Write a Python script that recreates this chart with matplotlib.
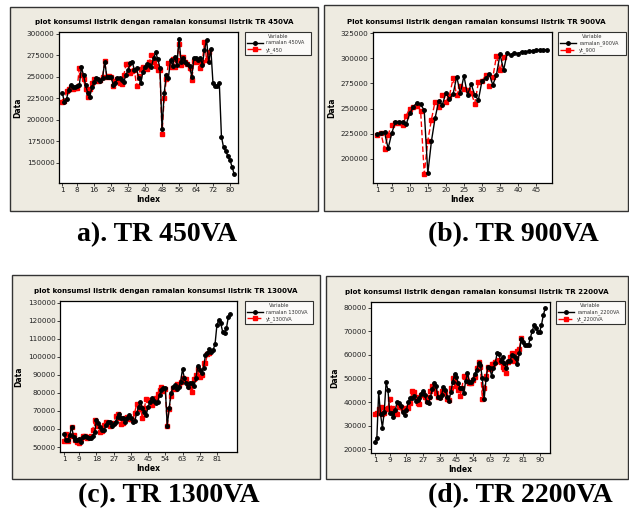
import matplotlib
matplotlib.use("Agg")
import matplotlib.pyplot as plt
from matplotlib.patches import Rectangle

# data
ramalan_450 = [231000, 221000, 224000, 235000, 241000, 238600, 238000, 239000, 240000, 261000,
               252000, 240500, 231000, 227000, 238600, 243600, 249000, 247500, 245000, 249000,
               267700, 250000, 250000, 250000, 240500, 242500, 248300, 248300, 246300, 244400,
               252200, 258000, 265800, 267000, 258000, 260000, 248300, 242500, 256000, 262000,
               264600, 263800, 262000, 271600, 278600, 270800, 260700, 188800, 230800, 252200,
               249000, 269700, 263000, 273500, 263800, 294000, 267700, 272400, 267700, 264600,
               263000, 250000, 271600, 271600, 269700, 272400, 263800, 281300, 293000, 267000,
               282500, 243200, 239700, 239700, 242500, 180200, 167800, 163500, 157700, 153000,
               145200, 136700]
yt_450 = [220500, 221500, 233000, 236000, 238000, 236000, 237000, 236500, 260000, 252000,
          247000, 236000, 226000, 236000, 243000, 248000, 246000, 245000, 246000, 250000,
          268000, 250000, 250500, 250000, 239000, 245000, 247000, 243000, 242000, 252000,
          264500, 264500, 255000, 257000, 258000, 239000, 251000, 259000, 262000, 260000,
          259000, 267000, 276000, 267000, 263000, 258000, 258000, 183000, 225000, 247000,
          266000, 261000, 271000, 262000, 270000, 288000, 264000, 273000, 267000, 265000,
          260000, 246000, 268000, 267000, 269000, 260000, 267000, 291000, 270000, 279000]

ramalan_900 = [224600, 226000, 226300, 210300, 225300, 236900, 236900, 236900, 234300, 245200,
               251900, 255900, 254200, 248200, 185400, 217600, 240200, 257500, 253500, 265500,
               259500, 264500, 281800, 265200, 282500, 263500, 274500, 263500, 258500, 277500,
               280100, 284400, 273500, 283500, 304000, 288400, 305700, 303400, 305700, 304700,
               306700, 306400, 307400, 307700, 308000, 308400, 308700, 308700]
yt_900 = [224000, 225500, 210000, 224000, 234000, 236000, 235500, 233500, 243000, 250000,
          252000, 253000, 248000, 185000, 218000, 239000, 257000, 252000, 263500, 257000,
          263000, 280000, 263500, 272000, 269000, 268000, 266000, 255000, 276000, 277500,
          283000, 272000, 281000, 302000, 288000, 301000]

ramalan_1300 = [57200, 53900, 53700, 56600, 61300, 55700, 53900, 53900, 54200, 53000,
                55700, 56300, 55700, 55200, 54800, 56100, 58100, 65000, 63100, 61300,
                59400, 59400, 62200, 63700, 63700, 61600, 62500, 64000, 66800, 68100,
                65900, 66200, 64000, 65900, 67700, 65900, 64000, 64400, 68600, 72300,
                75100, 71800, 69600, 67700, 72300, 75100, 77300, 75500, 74200, 75100,
                78800, 81600, 82500, 82500, 61800, 71400, 79700, 83400, 84400, 82100,
                83400, 86200, 93200, 88000, 85300, 83400, 85300, 85300, 83800, 88000,
                95100, 92700, 90800, 93600, 101000, 101900, 104100, 102800, 103800, 106900,
                117600, 120400, 118500, 113900, 113400, 116100, 122200, 123700]
yt_1300 = [53500, 57000, 53500, 56000, 61000, 56500, 54000, 53000, 52200, 54500,
           56300, 56000, 55000, 55800, 56300, 59500, 64800, 63500, 61500, 58500,
           59000, 62000, 63600, 63500, 61800, 62500, 63500, 67000, 68200, 66000,
           63000, 63500, 66000, 66800, 65500, 65500, 65000, 69000, 74000, 72500,
           71000, 66000, 71500, 76500, 75800, 76000, 73500, 76500, 77000, 79500,
           81500, 83000, 81000, 82000, 61500, 71000, 78500, 82500, 82000, 85000,
           84500, 86000, 88500, 87000, 87500, 85000, 83500, 80500, 87500, 90000,
           93000, 89000, 90000, 96500, 96500, 101500, 102000]

ramalan_2200 = [23000, 24700, 44400, 34800, 29200, 35900, 48400, 45100, 35200, 35200,
                33500, 36700, 40200, 39500, 38500, 35700, 34500, 36700, 40200, 41600,
                41900, 42700, 40500, 40900, 41600, 43300, 44700, 43000, 39900, 39500,
                42300, 45500, 47900, 47000, 42300, 41600, 43000, 46500, 45100, 42300,
                40600, 44400, 48400, 51800, 50800, 47900, 46100, 45800, 43700, 48900,
                52200, 48700, 48700, 49800, 51900, 53600, 56400, 55700, 50100, 41200,
                49600, 55000, 54600, 51200, 54300, 56400, 60700, 60200, 57400, 59200,
                56400, 54300, 57400, 57400, 59900, 59500, 58500, 56000, 60700, 66700,
                65600, 64200, 64200, 64200, 67300, 70100, 72700, 71500, 69800, 69600,
                72700, 76900, 79700]
yt_2200 = [35000, 35500, 37000, 38000, 35000, 35500, 37000, 37500, 41500, 37500,
           36500, 35500, 34800, 38000, 38000, 37000, 36500, 37500, 37500, 39800,
           44800, 44300, 42000, 39500, 39000, 43000, 43500, 42000, 40500, 42000,
           44500, 47000, 46000, 44000, 42000, 42000, 44500, 44500, 44000, 41500,
           41000, 46000, 50000, 49000, 47000, 45000, 42500, 46000, 51000, 50500,
           49000, 48000, 48000, 49500, 50500, 54500, 57000, 55000, 41500, 46000,
           51000, 55000, 54000, 56000, 56000, 57000, 57500, 58000, 57000, 55000,
           54000, 52500, 57000, 59000, 61000, 57500, 58500, 61500, 62500, 67000]

W, H = 629, 511
BEIGE = "#EEEBE1"

fig = plt.figure(figsize=(W / 100, H / 100), dpi=100)


def fx(x):
    return x / W


def fy(y):
    return 1 - y / H


def panel(box, area, legend_box, title, lab_fc, lab_yt, fc, yt, yticks, ylim, xticks, xlim, caption, cap_xy):
    # grey Minitab frame, kept behind the axes
    bx0, by0, bx1, by1 = box
    fig.patches.append(Rectangle((fx(bx0), fy(by1)), fx(bx1 - bx0), (by1 - by0) / H,
                                 transform=fig.transFigure, facecolor=BEIGE,
                                 edgecolor="#333333", lw=1.0, zorder=-5))
    x0, y0, x1, y1 = area
    ax = fig.add_axes([fx(x0), fy(y1), fx(x1 - x0), (y1 - y0) / H])
    ax.set_facecolor("white")
    ax.plot(range(1, len(fc) + 1), fc, color="black", lw=1.0, marker="o", ms=2.5,
            label=lab_fc, zorder=3)
    ax.plot(range(1, len(yt) + 1), yt, color="red", lw=1.0, ls=(0, (4, 2)), marker="s",
            ms=2.8, label=lab_yt, zorder=2)
    ax.set_xlim(*xlim)
    ax.set_ylim(*ylim)
    ax.set_xticks(xticks)
    ax.set_yticks(yticks)
    ax.tick_params(labelsize=5.2, length=2, width=0.6, pad=1.2, colors="#222222")
    for s in ax.spines.values():
        s.set_linewidth(0.9)
    ax.set_xlabel("Index", fontsize=5.5, fontweight="bold", labelpad=1)
    ax.set_ylabel("Data", fontsize=5.5, fontweight="bold", labelpad=3)
    fig.text(fx((bx0 + bx1) / 2), fy(area[1] - 10), title, ha="center", va="center",
             fontsize=5.1, fontweight="bold")
    lx0, ly0, lx1, ly1 = legend_box
    leg = ax.legend(loc="upper left",
                    bbox_to_anchor=(fx(lx0), fy(ly1), fx(lx1 - lx0), (ly1 - ly0) / H),
                    bbox_transform=fig.transFigure, mode="expand", title="Variable",
                    fontsize=3.6, title_fontsize=3.6, frameon=True, fancybox=False,
                    borderpad=0.4, handlelength=3.2, handletextpad=0.6, labelspacing=0.3,
                    borderaxespad=0)
    leg.get_frame().set_edgecolor("black")
    leg.get_frame().set_linewidth(0.8)
    for t in leg.get_texts():
        t.set_color("#333333")
    leg.get_title().set_color("#333333")
    fig.text(fx(cap_xy[0]), fy(cap_xy[1]), caption, ha="center", va="center",
             fontsize=20, fontweight="bold", family="Liberation Serif")


panel((10, 7, 318, 211), (59, 32, 238, 183), (245, 32, 311, 59),
      "plot konsumsi listrik dengan ramalan konsumsi listrik TR 450VA",
      "ramalan 450VA", "yt_450", ramalan_450, yt_450,
      range(150000, 300001, 25000), (126300, 302300),
      [1, 8, 16, 24, 32, 40, 48, 56, 64, 72, 80], (-0.55, 83.8),
      "a). TR 450VA", (157, 235))

panel((324, 5, 628, 211), (373, 32, 552, 183), (558, 32, 626, 59),
      "Plot konsumsi listrik dengan ramalan konsumsi listrik TR 900VA",
      "ramalan_900VA", "yt_900", ramalan_900, yt_900,
      range(200000, 325001, 25000), (175800, 326300),
      [1, 5, 10, 15, 20, 25, 30, 35, 40, 45], (-0.19, 49.4),
      "(b). TR 900VA", (513, 235))

panel((12, 275, 320, 479), (60, 301, 237, 452), (245, 301, 313, 330),
      "plot konsumsi listrik dengan ramalan konsumsi listrik TR 1300VA",
      "ramalan 1300VA", "yt_1300VA", ramalan_1300, yt_1300,
      range(50000, 130001, 10000), (47230, 130940),
      [1, 9, 18, 27, 36, 45, 54, 63, 72, 81], (-1.09, 91.5),
      "(c). TR 1300VA", (169, 496))

panel((326, 276, 628, 479), (371, 302, 550, 453), (556, 301, 625, 330),
      "plot konsumsi listrik dengan ramalan konsumsi listrik TR 2200VA",
      "ramalan_2200VA", "yt_2200VA", ramalan_2200, yt_2200,
      range(20000, 80001, 10000), (18430, 82400),
      [1, 9, 18, 27, 36, 45, 54, 63, 72, 81, 90], (-1.16, 95.6),
      "(d). TR 2200VA", (520, 496))

fig.savefig("out.png", dpi=100)
